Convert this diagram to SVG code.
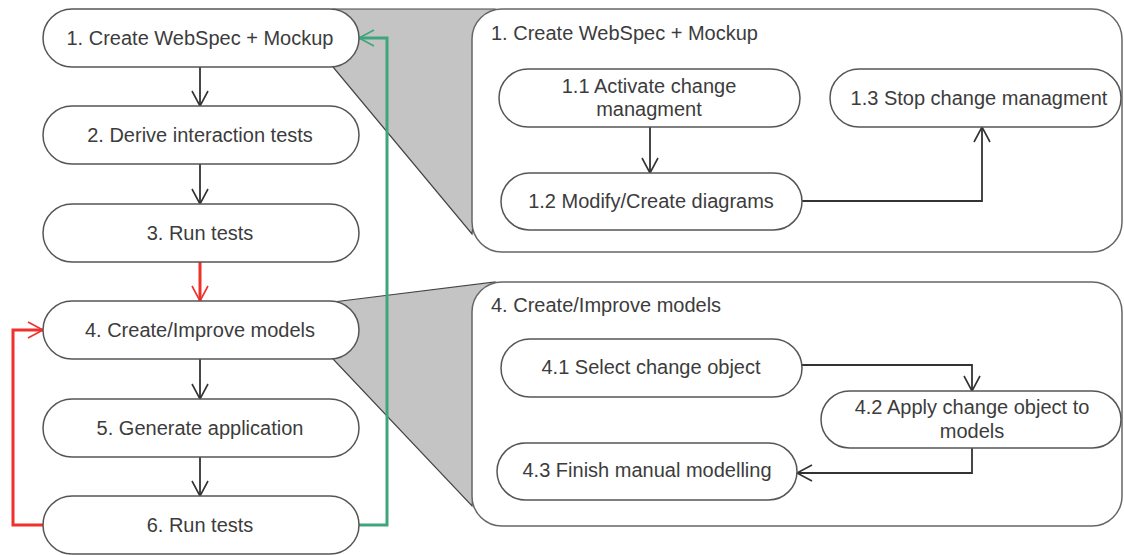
<svg xmlns="http://www.w3.org/2000/svg" width="1124" height="555" viewBox="0 0 1124 555">
<defs>
<style>
.node{fill:#fff;stroke:#555;stroke-width:1.5}
.panel{fill:#fff;stroke:#666;stroke-width:1.5}
.call{fill:#c4c4c4;stroke:#444;stroke-width:1.2}
text{font-family:"Liberation Sans",Arial,sans-serif;font-size:20px;fill:#3c3c3c}
.c{text-anchor:middle}
.blk{fill:none;stroke:#333;stroke-width:1.8}
.red{fill:none;stroke:#f0302a;stroke-width:3}
.grn{fill:none;stroke:#3fa57c;stroke-width:3}
</style>
<marker id="ab" markerUnits="userSpaceOnUse" markerWidth="20" markerHeight="20" refX="15" refY="8" orient="auto" overflow="visible">
<path d="M0,0 L15,8 L0,16" fill="none" stroke="#333" stroke-width="1.6"/>
</marker>
<marker id="ar" markerUnits="userSpaceOnUse" markerWidth="20" markerHeight="20" refX="15" refY="8" orient="auto" overflow="visible">
<path d="M0,0 L15,8 L0,16" fill="none" stroke="#f0302a" stroke-width="1.6"/>
</marker>
<marker id="ag" markerUnits="userSpaceOnUse" markerWidth="20" markerHeight="20" refX="15" refY="8" orient="auto" overflow="visible">
<path d="M0,0 L15,8 L0,16" fill="none" stroke="#3fa57c" stroke-width="1.6"/>
</marker>
</defs>
<rect width="1124" height="555" fill="#fff"/>
<g id="callouts">
<polygon class="call" points="333,9 495,9 472,234 333,67"/>
<polygon class="call" points="333,302 495,282 472,506 333,359"/>
</g>
<g id="panel1">
<rect class="panel" x="472" y="9" width="650" height="243" rx="30"/>
<text x="491" y="40">1. Create WebSpec + Mockup</text>
</g>
<g id="panel4">
<rect class="panel" x="472" y="282" width="650" height="244" rx="30"/>
<text x="491" y="312">4. Create/Improve models</text>
</g>
<g id="connectors">
<line class="blk" x1="200" y1="67" x2="200" y2="106" marker-end="url(#ab)"/>
<line class="blk" x1="200" y1="164" x2="200" y2="204" marker-end="url(#ab)"/>
<line class="red" x1="200" y1="262" x2="200" y2="301" marker-end="url(#ar)"/>
<line class="blk" x1="200" y1="359" x2="200" y2="399" marker-end="url(#ab)"/>
<line class="blk" x1="200" y1="457" x2="200" y2="496" marker-end="url(#ab)"/>
<path class="red" d="M43,525 H13 V330 H43" marker-end="url(#ar)"/>
<path class="grn" d="M359,525 H387 V38 H359" marker-end="url(#ag)"/>
<line class="blk" x1="650" y1="127" x2="650" y2="173" marker-end="url(#ab)"/>
<path class="blk" d="M802,201 H982 V127" marker-end="url(#ab)"/>
<path class="blk" d="M802,365 H972 V391" marker-end="url(#ab)"/>
<path class="blk" d="M972,448 V473 H797" marker-end="url(#ab)"/>
</g>
<g id="n1"><rect class="node" x="43" y="9" width="316" height="58" rx="29"/><text class="c" x="200" y="45">1. Create WebSpec + Mockup</text></g>
<g id="n2"><rect class="node" x="43" y="106" width="316" height="58" rx="29"/><text class="c" x="200" y="142">2. Derive interaction tests</text></g>
<g id="n3"><rect class="node" x="43" y="204" width="316" height="58" rx="29"/><text class="c" x="200" y="240">3. Run tests</text></g>
<g id="n4"><rect class="node" x="43" y="301" width="316" height="58" rx="29"/><text class="c" x="200" y="337">4. Create/Improve models</text></g>
<g id="n5"><rect class="node" x="43" y="399" width="316" height="58" rx="29"/><text class="c" x="200" y="435">5. Generate application</text></g>
<g id="n6"><rect class="node" x="43" y="496" width="316" height="58" rx="29"/><text class="c" x="200" y="532">6. Run tests</text></g>
<g id="n11"><rect class="node" x="499" y="69" width="301" height="58" rx="29"/><text class="c" x="649" y="93">1.1 Activate change</text><text class="c" x="649" y="116">managment</text></g>
<g id="n12"><rect class="node" x="501" y="173" width="301" height="57" rx="28.5"/><text class="c" x="651" y="208">1.2 Modify/Create diagrams</text></g>
<g id="n13"><rect class="node" x="830" y="69" width="291" height="58" rx="29"/><text class="c" x="979" y="105">1.3 Stop change managment</text></g>
<g id="n41"><rect class="node" x="501" y="339" width="301" height="58" rx="29"/><text class="c" x="651" y="374">4.1 Select change object</text></g>
<g id="n42"><rect class="node" x="821" y="391" width="300" height="57" rx="28.5"/><text class="c" x="972" y="414">4.2 Apply change object to</text><text class="c" x="972" y="438">models</text></g>
<g id="n43"><rect class="node" x="497" y="443" width="300" height="57" rx="28.5"/><text class="c" x="647" y="477">4.3 Finish manual modelling</text></g>
</svg>
